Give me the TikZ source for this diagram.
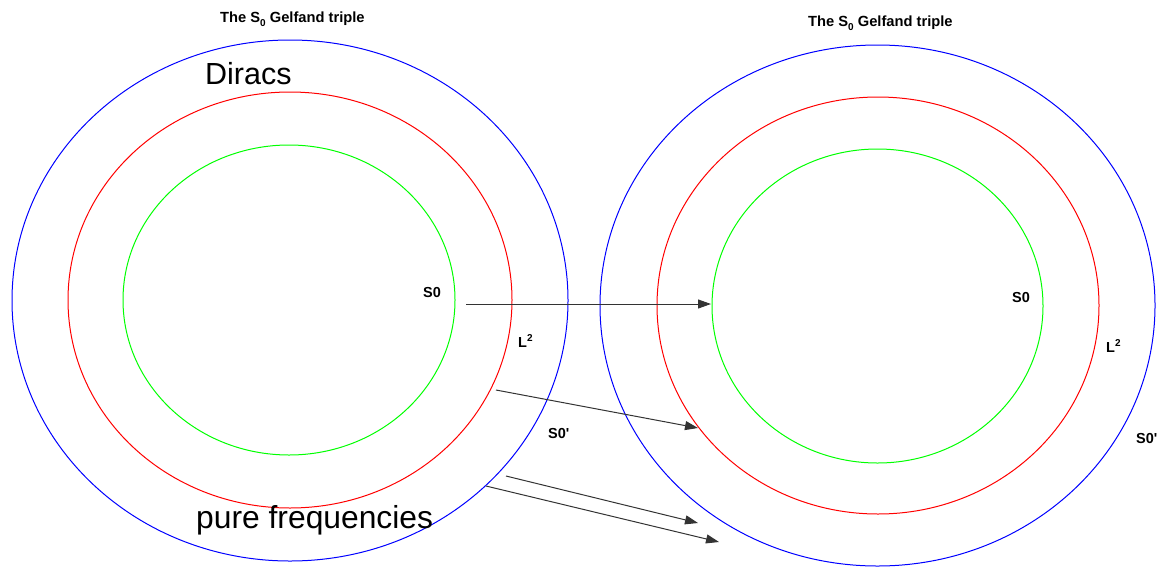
\documentclass[tikz,border=0pt]{standalone}
\usepackage{fontspec}
\setmainfont{Liberation Sans}
\usetikzlibrary{arrows.meta,shapes.geometric}
\begin{document}
\begin{tikzpicture}[x=1pt,y=-1pt,
  ring/.style={ellipse, draw, line width=1pt, inner sep=0pt, outer sep=0pt},
  conn/.style={draw=black!80, line width=1pt, -{Triangle[length=13pt,width=9pt]}},
  lbl/.style={font=\fontsize{14.5}{15}\selectfont\bfseries, inner sep=0pt, anchor=base west},
  title/.style={font=\fontsize{14.7}{15}\selectfont\bfseries, inner sep=0pt, anchor=base west},
  big/.style={font=\fontsize{30.5}{31}\selectfont, inner sep=0pt, anchor=base west}]
\useasboundingbox (0,0) rectangle (1158,568);
% left triple
\node[ring, draw=blue,  minimum width=556pt, minimum height=521pt] (LB) at (290,300.5) {};
\node[ring, draw=red,   minimum width=444pt, minimum height=416pt] (LR) at (290,300) {};
\node[ring, draw=green, minimum width=332pt, minimum height=310pt] (LG) at (289,300) {};
% right triple
\node[ring, draw=blue,  minimum width=555pt, minimum height=521pt] (RB) at (877.5,305.5) {};
\node[ring, draw=red,   minimum width=442pt, minimum height=417pt] (RR) at (878,305.5) {};
\node[ring, draw=green, minimum width=331pt, minimum height=314pt] (RG) at (877.5,306) {};
% titles
\node[title] (t1) at (220,22.5) {The S\raisebox{-4pt}{\fontsize{10}{10}\selectfont 0} Gelfand triple};
\node[title] (t2) at (808,26.5) {The S\raisebox{-4pt}{\fontsize{10}{10}\selectfont 0} Gelfand triple};
% big labels
\node[big] (dir) at (205,84) {Diracs};
\node[big, font=\fontsize{31.8}{32}\selectfont] (pf) at (196,528) {pure frequencies};
% small labels
\node[lbl] (ls0) at (423,297) {S0};
\node[lbl] (ll2) at (518,347) {L\raisebox{6pt}{\fontsize{10}{10}\selectfont\bfseries 2}};
\node[lbl] (ls0p) at (548,438) {S0\textquotesingle};
\node[lbl] (rs0) at (1012,302) {S0};
\node[lbl] (rl2) at (1106,352) {L\raisebox{6pt}{\fontsize{10}{10}\selectfont\bfseries 2}};
\node[lbl] (rs0p) at (1136,443) {S0\textquotesingle};
% arrow ends
\coordinate (a1s) at (466,304);
\coordinate (a1e) at (711,304);
\coordinate (a2s) at (496,390);
\coordinate (a2e) at (698,428);
\coordinate (a3s) at (506,476);
\coordinate (a3e) at (698,523);
\coordinate (a4s) at (486,486);
\coordinate (a4e) at (719,542);
\draw[conn] (a1s) -- (a1e);
\draw[conn] (a2s) -- (a2e);
\draw[conn] (a3s) -- (a3e);
\draw[conn] (a4s) -- (a4e);
\end{tikzpicture}
\end{document}
